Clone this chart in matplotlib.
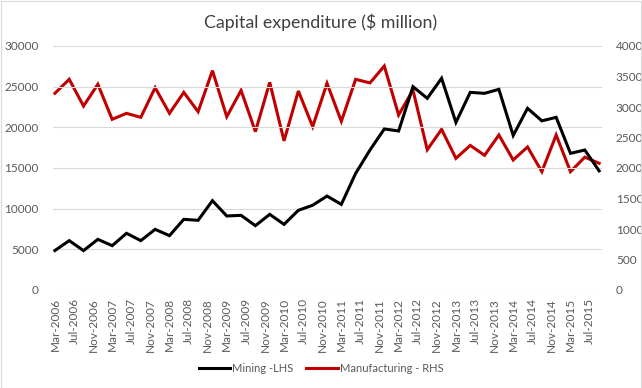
import numpy as np
import matplotlib.pyplot as plt
from matplotlib.patches import Rectangle

# quarterly, Mar-2006 .. Sep-2015
start_year, start_month = 2006, 3

mining = [4850, 6070, 4840, 6230, 5450, 6970, 6070, 7460, 6680, 8690,
          8570, 10980, 9100, 9180, 7910, 9300, 8070, 9800, 10420, 11550,
          10530, 14340, 17210, 19800, 19550, 25000, 23570, 26030, 20600, 24300,
          24180, 24670, 19000, 22340, 20800, 21230, 16800, 17210, 14650]

manufacturing = [3224, 3454, 3016, 3372, 2798, 2896, 2831, 3317, 2896, 3240,
                 2923, 3596, 2841, 3272, 2596, 3404, 2445, 3262, 2678, 3388,
                 2765, 3454, 3395, 3672, 2869, 3279, 2300, 2634, 2158, 2370,
                 2208, 2541, 2131, 2345, 1940, 2541, 1940, 2178, 2077]

month_names = ['Jan', 'Feb', 'Mar', 'Apr', 'May', 'Jun',
               'Jul', 'Aug', 'Sep', 'Oct', 'Nov', 'Dec']

# months since Mar-2006
x = np.arange(len(mining)) * 3
tick_pos = np.arange(0, 113, 4)
tick_labels = []
for m in tick_pos:
    mm = start_month - 1 + m
    tick_labels.append(f"{month_names[mm % 12]}-{start_year + mm // 12}")

plt.rcParams['font.family'] = ['Lato', 'DejaVu Sans']
grey = '#595959'

fig = plt.figure(figsize=(6.42, 3.88), dpi=100)
fig.patches.append(Rectangle((0.001, 0.001), 0.997, 0.996, transform=fig.transFigure,
                             fill=False, edgecolor='#D9D9D9', lw=0.8))

ax = fig.add_axes([52.5 / 642, 1 - 290 / 388, (602 - 52.5) / 642, 244 / 388])
ax2 = ax.twinx()

l1, = ax.plot(x, mining, color='black', lw=2.2, solid_joinstyle='miter', zorder=3)
l2, = ax2.plot(x, manufacturing, color='#C00000', lw=2.2, solid_joinstyle='miter')

ax.set_zorder(ax2.get_zorder() + 1)
ax.patch.set_visible(False)

ax.set_xlim(-0.5, 114.6)
ax.set_ylim(0, 30000)
ax2.set_ylim(0, 4000)
ax.set_yticks(np.arange(0, 30001, 5000))
ax2.set_yticks(np.arange(0, 4001, 500))
ax.set_xticks(tick_pos)
ax.set_xticklabels(tick_labels, rotation=90)

ax.grid(axis='y', color='#D9D9D9', lw=0.8)
ax.set_axisbelow(True)

for a in (ax, ax2):
    for s in a.spines.values():
        s.set_visible(False)
    a.tick_params(length=0, labelsize=8.5, colors=grey)
ax.tick_params(axis='y', pad=10)
ax2.tick_params(axis='y', pad=10)
ax.tick_params(axis='x', pad=6)

fig.text(0.5, 1 - 22 / 388, "Capital expenditure ($ million)", ha='center', va='center',
         fontsize=12.8, color='#404040')

fig.legend([l1, l2], ['Mining -LHS', 'Manufacturing - RHS'], loc='center',
           bbox_to_anchor=(0.5, 1 - 368 / 388), ncol=2, frameon=False,
           fontsize=8, labelcolor=grey, handlelength=2.8, handletextpad=0.2,
           columnspacing=1.2)

fig.savefig('out.png', dpi=100)
